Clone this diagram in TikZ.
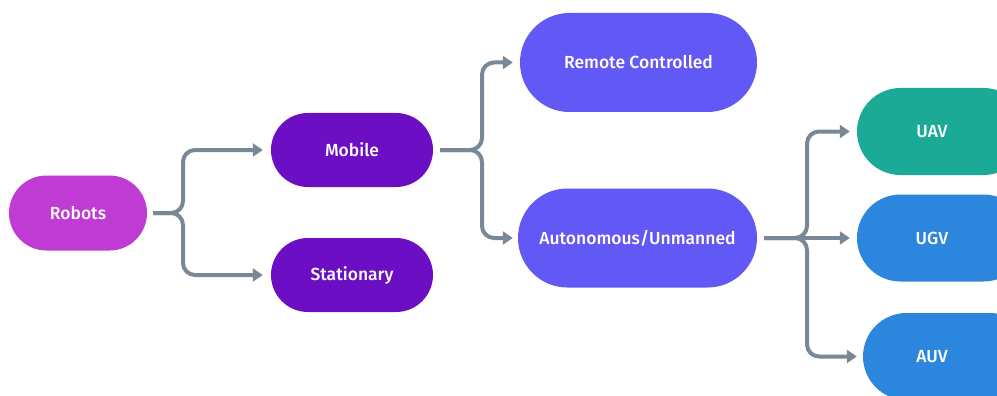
\documentclass[tikz,border=0pt]{standalone}
\usepackage{fontspec}
\setmainfont{Fira Sans}[UprightFont = * Medium]
\usetikzlibrary{arrows.meta}

\definecolor{robotc}{HTML}{BF3BD3}
\definecolor{mobilec}{HTML}{6C0EC4}
\definecolor{autoc}{HTML}{6258F5}
\definecolor{uavc}{HTML}{1BAA96}
\definecolor{ugvc}{HTML}{2D86DE}
\definecolor{connc}{HTML}{788896}

\tikzset{
  pill/.style={draw=none, fill=#1, text=white, inner sep=0pt,
    font=\fontsize{17.5}{20}\selectfont},
  conn/.style={draw=connc, line width=4pt, rounded corners=12pt,
    -{Triangle[length=10pt,width=13pt]}},
}

\begin{document}
\begin{tikzpicture}[x=1pt, y=-1pt]
  \fill[white] (0,0) rectangle (997,396);
  \useasboundingbox (0,0) rectangle (997,396);

  % categories
  \node[pill=robotc, minimum width=138pt, minimum height=75pt, rounded corners=37.5pt] (robots) at (78,213) {Robots};
  \node[pill=mobilec, minimum width=162pt, minimum height=74pt, rounded corners=37pt] (mobile) at (352,150) {Mobile};
  \node[pill=mobilec, minimum width=162pt, minimum height=74pt, rounded corners=37pt] (stationary) at (352,275) {Stationary};
  \node[pill=autoc, minimum width=237pt, minimum height=99pt, rounded corners=49.5pt] (remote) at (638.5,62.5) {Remote Controlled};
  \node[pill=autoc, minimum width=239pt, minimum height=99pt, rounded corners=49.5pt] (auto) at (637.5,238) {Autonomous/Unmanned};
  \node[pill=uavc, minimum width=170pt, minimum height=87pt, rounded corners=43.5pt] (uav) at (942,131.5) {};
  \node[pill=ugvc, minimum width=170pt, minimum height=87pt, rounded corners=43.5pt] (ugv) at (942,238) {};
  \node[pill=ugvc, minimum width=170pt, minimum height=87pt, rounded corners=43.5pt] (auv) at (948,356.5) {};
  \node[text=white, font=\fontsize{17.5}{20}\selectfont] (uavt) at (932,131.5) {UAV};
  \node[text=white, font=\fontsize{17.5}{20}\selectfont] (ugvt) at (932,238) {UGV};
  \node[text=white, font=\fontsize{17.5}{20}\selectfont] (auvt) at (932,356.5) {AUV};

  % junction points of the branching connectors
  \coordinate (j1) at (183,213);
  \coordinate (j2) at (482,150);
  \coordinate (j3) at (807,238);

  \draw[conn] ([xshift=6pt]robots.east) -- (j1) |- ([xshift=-8pt]mobile.west);
  \draw[conn] ([xshift=6pt]robots.east) -- (j1) |- ([xshift=-8pt]stationary.west);

  \draw[conn] ([xshift=7pt]mobile.east) -- (j2) |- ([xshift=-7pt]remote.west);
  \draw[conn] ([xshift=7pt]mobile.east) -- (j2) |- ([xshift=-5pt]auto.west);

  \draw[conn] ([xshift=7pt]auto.east) -- (j3) |- ([xshift=-7pt]uav.west);
  \draw[conn] ([xshift=7pt]auto.east) -- ([xshift=-7pt]ugv.west);
  \draw[conn] ([xshift=7pt]auto.east) -- (j3) |- ([xshift=-6pt]auv.west);
\end{tikzpicture}
\end{document}
